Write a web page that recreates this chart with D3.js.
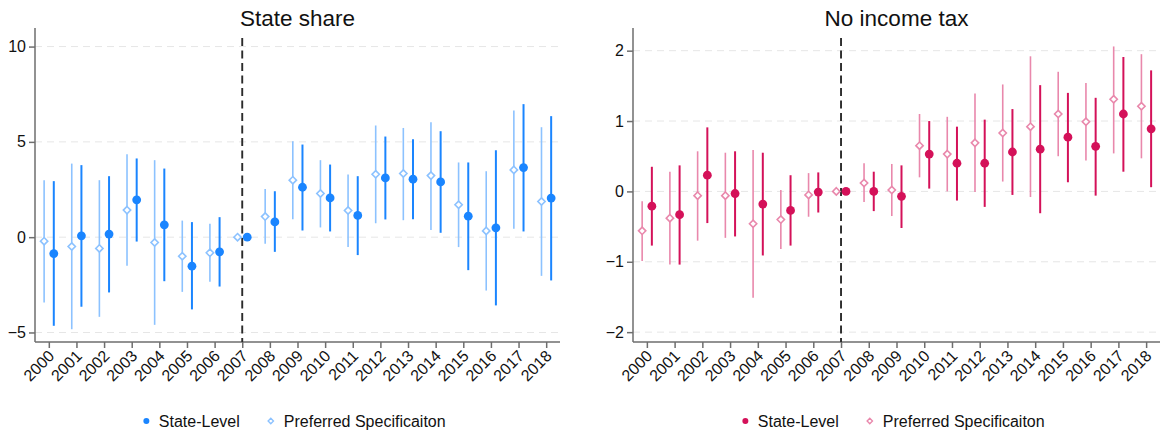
<!DOCTYPE html>
<html>
<head>
<meta charset="utf-8">
<script src="https://cdn.jsdelivr.net/npm/d3@7"></script>
<style>
  body { margin: 0; background: #fff; }
  text { font-family: "Liberation Sans", Arial, sans-serif; fill: #111; }
</style>
</head>
<body>
<div id="chart"></div>
<script>
// Years on the x axis
const years = [2000, 2001, 2002, 2003, 2004, 2005, 2006, 2007, 2008, 2009,
               2010, 2011, 2012, 2013, 2014, 2015, 2016, 2017, 2018];

// Panel 1: State share
const shareStateEst = [-0.86, 0.07, 0.16, 1.96, 0.65, -1.52, -0.77, 0, 0.80, 2.62, 2.06, 1.14, 3.11, 3.04, 2.90, 1.10, 0.49, 3.65, 2.05];
const shareStateLo  = [-4.65, -3.65, -2.90, -0.23, -2.31, -3.79, -2.59, 0, -0.77, 0.35, 0.30, -0.94, 0.93, 0.94, 0.23, -1.73, -3.58, 0.30, -2.27];
const shareStateHi  = [2.94, 3.78, 3.20, 4.13, 3.60, 0.79, 1.05, 0, 2.41, 4.86, 3.81, 3.20, 5.28, 5.14, 5.56, 3.92, 4.56, 6.98, 6.35];
const sharePrefEst  = [-0.21, -0.49, -0.59, 1.42, -0.28, -1.00, -0.82, 0, 1.08, 2.99, 2.29, 1.40, 3.30, 3.34, 3.23, 1.70, 0.33, 3.53, 1.87];
const sharePrefLo   = [-3.43, -4.83, -4.18, -1.50, -4.60, -2.87, -2.34, 0, -0.35, 0.94, 0.51, -0.51, 0.73, 0.89, 0.38, -0.52, -2.80, 0.44, -2.03];
const sharePrefHi   = [2.99, 3.86, 2.99, 4.35, 4.04, 0.87, 0.70, 0, 2.53, 5.03, 4.04, 3.29, 5.86, 5.73, 6.03, 3.92, 3.46, 6.64, 5.77];

// Panel 2: No income tax
const taxStateEst = [-0.21, -0.33, 0.23, -0.03, -0.18, -0.27, -0.01, 0, 0, -0.07, 0.53, 0.40, 0.40, 0.56, 0.60, 0.77, 0.64, 1.10, 0.89];
const taxStateLo  = [-0.77, -1.04, -0.45, -0.64, -0.91, -0.77, -0.30, 0, -0.28, -0.52, 0.04, -0.13, -0.22, -0.05, -0.31, 0.13, -0.06, 0.28, 0.06];
const taxStateHi  = [0.35, 0.37, 0.91, 0.57, 0.55, 0.23, 0.27, 0, 0.28, 0.37, 1.00, 0.92, 1.02, 1.17, 1.51, 1.40, 1.33, 1.91, 1.72];
const taxPrefEst  = [-0.56, -0.38, -0.06, -0.06, -0.46, -0.40, -0.05, 0, 0.12, 0.02, 0.65, 0.53, 0.69, 0.83, 0.92, 1.10, 0.99, 1.31, 1.21];
const taxPrefLo   = [-0.99, -1.04, -0.70, -0.66, -1.51, -0.82, -0.36, 0, -0.15, -0.35, 0.20, 0.00, -0.01, 0.14, -0.08, 0.50, 0.44, 0.54, 0.47];
const taxPrefHi   = [-0.14, 0.28, 0.57, 0.55, 0.59, 0.02, 0.26, 0, 0.40, 0.39, 1.10, 1.06, 1.39, 1.52, 1.92, 1.70, 1.54, 2.06, 1.95];

const shareTicks = [-5, 0, 5, 10];
const taxTicks = [-2, -1, 0, 1, 2];
const eventYear = 2007;
const legendLabels = ["State-Level", "Preferred Specificaiton"];

const width = 1162, height = 434;
const svg = d3.select("#chart").append("svg")
  .attr("width", width)
  .attr("height", height);

function rows(est, lo, hi) {
  return years.map((yr, i) => ({ yr, est: est[i], lo: lo[i], hi: hi[i] }));
}

function drawPanel(opts) {
  const top = 38, bottom = 342;
  const x = d3.scaleLinear().domain([1999.5, 2018.5]).range([opts.left, opts.right]);
  const y = d3.scaleLinear().domain(opts.yDomain).range([bottom, top]);
  const g = svg.append("g");

  // Gridlines
  g.selectAll(".grid")
    .data(opts.ticks)
    .enter()
    .append("line")
    .attr("x1", opts.left)
    .attr("x2", opts.right)
    .attr("y1", d => y(d))
    .attr("y2", d => y(d))
    .attr("stroke", "#e6e6e6")
    .attr("stroke-width", 1)
    .attr("stroke-dasharray", "7,5");

  // Axes
  const yAxis = g.append("g")
    .attr("transform", `translate(${opts.left},0)`)
    .call(d3.axisLeft(y).tickValues(opts.ticks).tickSize(6).tickPadding(3).tickFormat(d3.format("d")));
  yAxis.select(".domain").attr("d", `M0,${bottom}V${top - 10}`);

  const xAxis = g.append("g")
    .attr("transform", `translate(0,${bottom})`)
    .call(d3.axisBottom(x).tickValues(years).tickSize(6).tickFormat(d3.format("d")));
  xAxis.select(".domain").attr("d", `M${opts.left},0H${opts.right}`);
  xAxis.selectAll("text")
    .attr("text-anchor", "end")
    .attr("dy", null)
    .attr("y", null)
    .attr("transform", "translate(6,15) rotate(-45)")
    .style("font-size", "16px");

  [yAxis, xAxis].forEach(a => {
    a.selectAll(".domain, .tick line").attr("stroke", "#6e6e6e").attr("stroke-width", 1.5);
    a.selectAll("text").attr("fill", "#111").style("font-family", "Liberation Sans, Arial, sans-serif");
  });
  yAxis.selectAll("text").style("font-size", "16px");

  // Event line
  g.append("line")
    .attr("x1", x(eventYear))
    .attr("x2", x(eventYear))
    .attr("y1", top)
    .attr("y2", bottom)
    .attr("stroke", "#2b2b2b")
    .attr("stroke-width", 1.9)
    .attr("stroke-dasharray", "8,4.5");

  // Preferred specification (light diamonds)
  const pref = rows(opts.prefEst, opts.prefLo, opts.prefHi);
  const px = d => x(d.yr - 0.17);
  g.selectAll(".pref-ci")
    .data(pref.filter(d => d.lo !== d.hi))
    .enter()
    .append("line")
    .attr("x1", px).attr("x2", px)
    .attr("y1", d => y(d.lo)).attr("y2", d => y(d.hi))
    .attr("stroke", opts.light)
    .attr("stroke-width", 1.6);
  g.selectAll(".pref-pt")
    .data(pref)
    .enter()
    .append("path")
    .attr("d", d3.symbol(d3.symbolDiamond2, 34))
    .attr("transform", d => `translate(${px(d)},${y(d.est)})`)
    .attr("fill", "#fff")
    .attr("stroke", opts.light)
    .attr("stroke-width", 1.6);

  // State-level (solid dots)
  const state = rows(opts.stateEst, opts.stateLo, opts.stateHi);
  const sx = d => x(d.yr + 0.18);
  g.selectAll(".state-ci")
    .data(state.filter(d => d.lo !== d.hi))
    .enter()
    .append("line")
    .attr("x1", sx).attr("x2", sx)
    .attr("y1", d => y(d.lo)).attr("y2", d => y(d.hi))
    .attr("stroke", opts.dark)
    .attr("stroke-width", 2);
  g.selectAll(".state-pt")
    .data(state)
    .enter()
    .append("circle")
    .attr("cx", sx)
    .attr("cy", d => y(d.est))
    .attr("r", 4.4)
    .attr("fill", opts.dark);

  // Title
  const mid = (opts.left + opts.right) / 2;
  g.append("text")
    .attr("x", mid)
    .attr("y", 26)
    .attr("text-anchor", "middle")
    .style("font-size", "22.5px")
    .text(opts.title);

  // Legend
  const leg = g.append("g");
  leg.append("circle").attr("cx", 0).attr("cy", 421).attr("r", 3).attr("fill", opts.dark);
  const t1 = leg.append("text").attr("x", 12.5).attr("y", 427).style("font-size", "16px").text(legendLabels[0]);
  const w1 = t1.node().getComputedTextLength();
  const dx = 12.5 + w1 + 31;
  leg.append("path")
    .attr("d", d3.symbol(d3.symbolDiamond2, 18))
    .attr("transform", `translate(${dx},421)`)
    .attr("fill", "#fff")
    .attr("stroke", opts.light)
    .attr("stroke-width", 1.4);
  const t2 = leg.append("text").attr("x", dx + 13).attr("y", 427).style("font-size", "16px").text(legendLabels[1]);
  const total = dx + 13 + t2.node().getComputedTextLength() + 3;
  leg.attr("transform", `translate(${mid - total / 2},0)`);
}

drawPanel({
  title: "State share",
  left: 35, right: 560,
  yDomain: [-5.5, 10.45],
  ticks: shareTicks,
  stateEst: shareStateEst, stateLo: shareStateLo, stateHi: shareStateHi,
  prefEst: sharePrefEst, prefLo: sharePrefLo, prefHi: sharePrefHi,
  dark: "#1a85ff", light: "#8cc2ff"
});

drawPanel({
  title: "No income tax",
  left: 633, right: 1160,
  yDomain: [-2.14, 2.18],
  ticks: taxTicks,
  stateEst: taxStateEst, stateLo: taxStateLo, stateHi: taxStateHi,
  prefEst: taxPrefEst, prefLo: taxPrefLo, prefHi: taxPrefHi,
  dark: "#d41159", light: "#e988ac"
});
</script>
</body>
</html>
